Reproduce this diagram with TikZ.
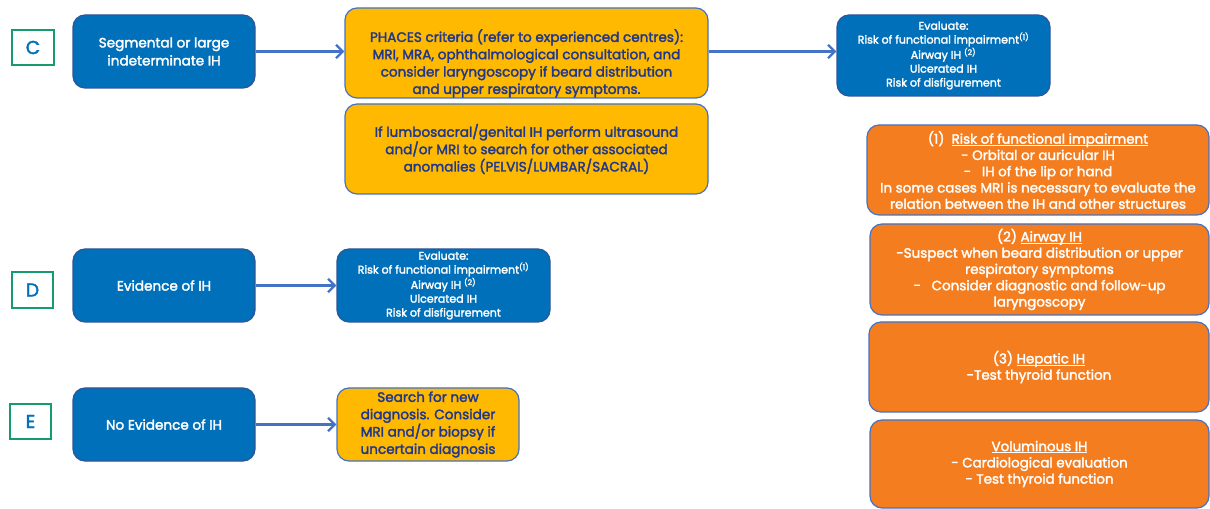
\documentclass[tikz,border=0pt]{standalone}
\usepackage{fontspec}
\setmainfont{Poppins}[FakeBold=2.2]
\usetikzlibrary{arrows.meta}
\definecolor{boxblue}{RGB}{0,112,186}
\definecolor{edgeblue}{RGB}{47,85,151}
\definecolor{gold}{RGB}{255,185,0}
\definecolor{ink}{RGB}{32,56,140}
\definecolor{tangerine}{RGB}{244,125,32}
\definecolor{linkblue}{RGB}{68,114,196}
\definecolor{tagGreen}{RGB}{22,155,110}
\definecolor{tagBlue}{RGB}{0,112,192}

% box from corner (x1,y1) to corner (x2,y2), in pixel units
\newcommand\boxat[7]{%
  \node[#2, minimum width={(#5-#3)*0.75pt}, minimum height={(#6-#4)*0.75pt}]
    (#1) at ({(#3+#5)/2},{(#4+#6)/2}) {#7};}

% thin underline set close to the baseline
\newcommand\uln[1]{\setbox0=\hbox{#1}\leavevmode\rlap{\rule[-1.5pt]{\wd0}{0.5pt}}\box0}

\tikzset{
  base/.style={rounded corners=9pt, inner sep=0pt, align=center, line width=0.9pt},
  mainbox/.style={base, fill=boxblue, draw=edgeblue, text=white,
    font=\fontsize{10.2pt}{13.5pt}\selectfont},
  evalbox/.style={base, fill=boxblue, draw=edgeblue, text=white,
    font=\fontsize{8.3pt}{10.4pt}\selectfont},
  goldbox/.style={base, fill=gold, draw=linkblue, text=ink,
    font=\fontsize{10.2pt}{13pt}\selectfont},
  notebox/.style={base, fill=tangerine, draw=linkblue, text=white,
    font=\fontsize{10.1pt}{12.2pt}\selectfont},
  tag/.style={draw=tagGreen, line width=1.6pt, fill=white, text=tagBlue,
    inner sep=0pt, font=\fontsize{14pt}{14pt}\selectfont},
  link/.style={draw=linkblue, line width=1.8pt,
    -{Straight Barb[length=5pt,width=10pt,line width=1.8pt]}},
}

\begin{document}
\begin{tikzpicture}[x=0.75pt,y=-0.75pt]
\useasboundingbox (0,0) rectangle (1210,509);

% section tags
\boxat{tagC}{tag}{12}{30}{54}{65}{C}
\boxat{tagD}{tag}{12}{272}{53}{308}{D}
\boxat{tagE}{tag}{10}{404}{51}{439}{E}

% row C
\boxat{seg}{mainbox}{73}{15}{255}{88}{Segmental or large\\indeterminate IH}
\boxat{phaces}{goldbox}{345}{8}{708}{98}{\rule{0pt}{25pt}PHACES criteria (refer to experienced centres):\\MRI, MRA, ophthalmological consultation, and\\consider laryngoscopy if beard distribution\\and upper respiratory symptoms.}
\boxat{lumbo}{goldbox}{345}{104}{708}{194}{If lumbosacral/genital IH perform ultrasound\\and/or MRI to search for other associated\\anomalies (PELVIS/LUMBAR/SACRAL)}
\boxat{evalC}{evalbox}{837}{15}{1050}{96}{Evaluate:\\Risk of functional impairment\textsuperscript{(1)}\\Airway IH \textsuperscript{(2)}\\Ulcerated IH\\Risk of disfigurement}

% row D
\boxat{evid}{mainbox}{73}{249}{255}{322}{Evidence of IH}
\boxat{evalD}{evalbox}{337}{249}{550}{322}{Evaluate:\\Risk of functional impairment\textsuperscript{(1)}\\Airway IH \textsuperscript{(2)}\\Ulcerated IH\\Risk of disfigurement}

% row E
\boxat{noevid}{mainbox}{73}{388}{255}{461}{No Evidence of IH}
\boxat{search}{goldbox}{337}{388}{519}{461}{Search for new\\diagnosis. Consider\\MRI and/or biopsy if\\uncertain diagnosis}

% notes column
\boxat{note1}{notebox}{867}{125}{1209}{215}{(1)\ \ \uln{Risk of functional impairment}\\- Orbital or auricular IH\\-\ \ \ IH of the lip or hand\\In some cases MRI is necessary to evaluate the\\relation between the IH and other structures}
\boxat{note2}{notebox}{870}{224}{1209}{315}{(2) \uln{Airway IH}\\-Suspect when beard distribution or upper\\respiratory symptoms\\-\ \ \ Consider diagnostic and follow-up\\laryngoscopy}
\boxat{note3}{notebox}{869}{322}{1209}{412}{(3) \uln{Hepatic IH}\\-Test thyroid function}
\boxat{note4}{notebox}{870}{420}{1209}{508}{\uln{Voluminous IH}\\- Cardiological evaluation\\- Test thyroid function}

% connectors
\draw[link] (seg.east) -- (seg.east -| phaces.west);
\draw[link] (seg.east -| phaces.east) -- (seg.east -| evalC.west);
\draw[link] (evid.east) -- (evid.east -| evalD.west);
\draw[link] (noevid.east) -- (noevid.east -| search.west);
\end{tikzpicture}
\end{document}
